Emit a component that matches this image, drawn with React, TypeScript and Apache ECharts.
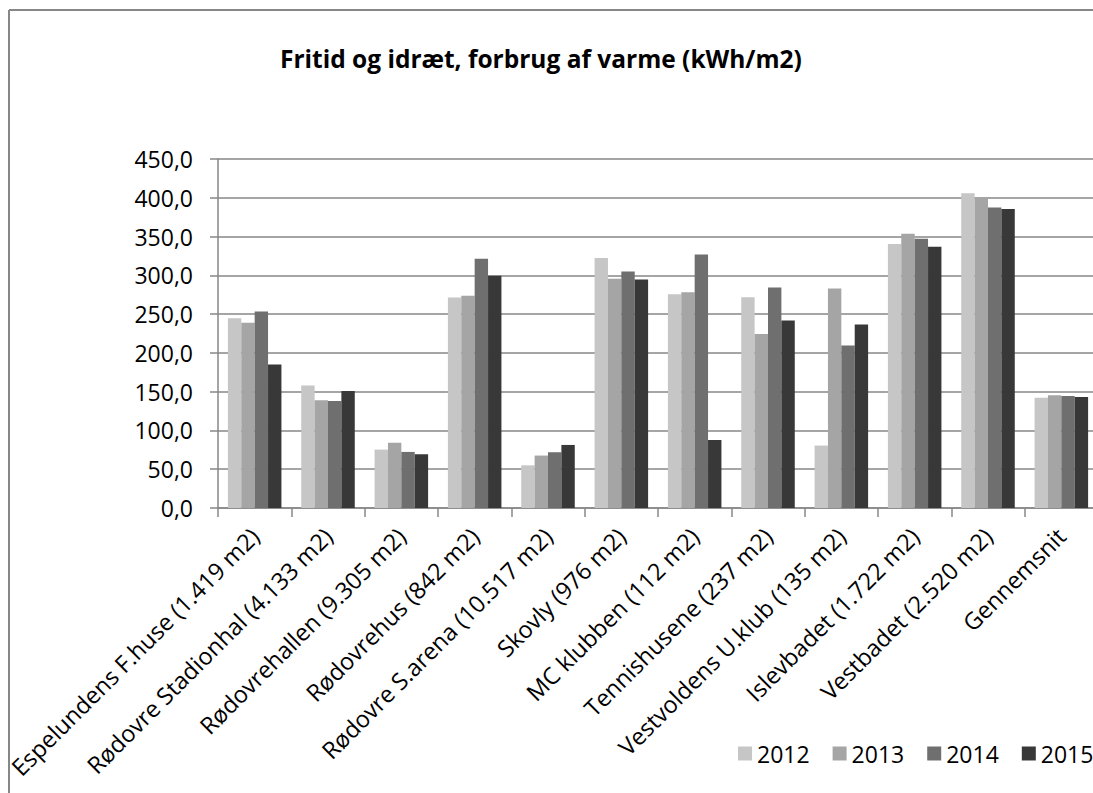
import React, { useEffect, useRef } from "react";
import * as echarts from "echarts";

const categories = [
  "Espelundens F.huse (1.419 m2)",
  "Rødovre Stadionhal (4.133 m2)",
  "Rødovrehallen (9.305 m2)",
  "Rødovrehus (842 m2)",
  "Rødovre S.arena (10.517 m2)",
  "Skovly (976 m2)",
  "MC klubben (112 m2)",
  "Tennishusene (237 m2)",
  "Vestvoldens U.klub (135 m2)",
  "Islevbadet (1.722 m2)",
  "Vestbadet (2.520 m2)",
  "Gennemsnit",
];
const years = ["2012", "2013", "2014", "2015"];
const v2012 = [244.8, 158, 75.3, 271.5, 55, 322.2, 275.7, 271.9, 80.5, 340.3, 405.7, 142];
const v2013 = [238.7, 139, 84, 273.6, 67.6, 295.5, 278.3, 224.5, 283, 353.6, 399.2, 145.4];
const v2014 = [253.4, 138, 72.3, 321.3, 71.9, 305, 327, 284.4, 209.5, 347.1, 387.6, 144.5];
const v2015 = [185, 151, 69.3, 299.4, 81.3, 294.7, 87.7, 241.8, 236.6, 336.8, 385.4, 143.2];
const seriesValues = [v2012, v2013, v2014, v2015];
const colors = ["#c6c6c6", "#a5a5a5", "#6f6f6f", "#383838"];
const title = "Fritid og idræt, forbrug af varme (kWh/m2)";

const FONT = "Open Sans";
const GRAY = "#878787";
const FS = 23;

export default function App() {
  const ref = useRef<HTMLDivElement>(null);
  useEffect(() => {
    if (!ref.current) return;
    const chart = echarts.init(ref.current, null, { renderer: "svg" });
    chart.setOption({
      animation: false,
      backgroundColor: "#ffffff",
      textStyle: { fontFamily: FONT },
      title: {
        text: title,
        left: 275,
        top: 41,
        textStyle: { fontFamily: FONT, fontWeight: "bold", fontSize: 24.5, color: "#000" },
      },
      graphic: [
        {
          type: "line",
          shape: { x1: 9, y1: 10, x2: 9, y2: 800 },
          style: { stroke: GRAY, lineWidth: 2 },
          silent: true,
        },
        {
          type: "line",
          shape: { x1: 9, y1: 10, x2: 1110, y2: 10 },
          style: { stroke: GRAY, lineWidth: 2 },
          silent: true,
        },
      ],
      legend: {
        data: years,
        left: 733,
        top: 737,
        itemWidth: 14,
        itemHeight: 14,
        itemGap: 23,
        icon: "rect",
        textStyle: { fontFamily: FONT, fontSize: FS, color: "#000" },
      },
      grid: { left: 218, top: 159, right: 12, bottom: 285, containLabel: false },
      xAxis: {
        type: "category",
        data: categories,
        axisLine: { lineStyle: { color: GRAY, width: 1.5 } },
        axisTick: { show: true, alignWithLabel: false, length: 9, lineStyle: { color: GRAY, width: 1.5 } },
        axisLabel: {
          interval: 0,
          rotate: 45,
          margin: 24,
          fontFamily: FONT,
          fontSize: 23.5,
          color: "#000",
        },
      },
      yAxis: {
        type: "value",
        min: 0,
        max: 450,
        interval: 50,
        axisLine: { show: true, lineStyle: { color: GRAY, width: 1.5 } },
        axisTick: { show: true, length: 8, lineStyle: { color: GRAY, width: 1.5 } },
        splitLine: { lineStyle: { color: GRAY, width: 1.5 } },
        axisLabel: {
          margin: 25,
          fontFamily: FONT,
          fontSize: FS,
          color: "#000",
          formatter: (v: number) => v.toFixed(1).replace(".", ","),
        },
      },
      series: years.map((y, i) => ({
        name: y,
        type: "bar",
        data: seriesValues[i],
        barGap: "0%",
        barCategoryGap: "27%",
        itemStyle: { color: colors[i] },
      })),
    });
    return () => chart.dispose();
  }, []);
  return (
    <div
      style={{
        position: "fixed",
        left: 0,
        top: 0,
        width: 1093,
        height: 793,
        overflow: "hidden",
        background: "#fff",
      }}
    >
      <div ref={ref} style={{ width: 1110, height: 793 }} />
    </div>
  );
}
